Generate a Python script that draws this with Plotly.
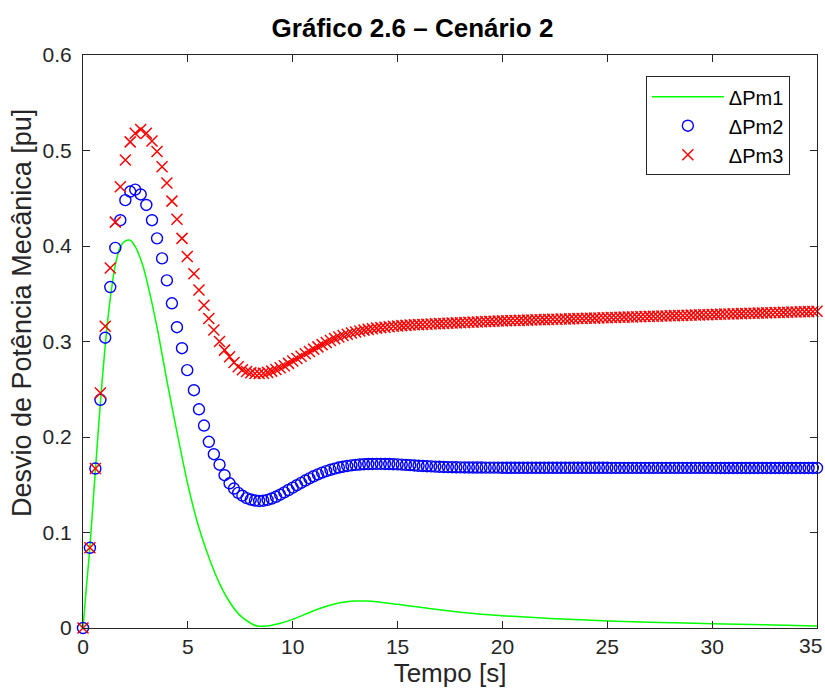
import plotly.graph_objects as go

# ---- data ----
# shared time base for the marker series (s)
t_early = [0, 0.33, 0.59, 0.83, 1.06, 1.30, 1.54, 1.78, 2.02, 2.25,
           2.49, 2.75, 3.02, 3.29, 3.53, 3.77, 4.00, 4.24, 4.48, 4.72,
           4.97, 5.29, 5.53, 5.77, 6.00, 6.24, 6.51, 6.75, 6.99, 7.20]
t_late = [7.4, 7.6, 7.8, 8.0, 8.2, 8.4, 8.6, 8.8, 9.0, 9.2,
          9.4, 9.6, 9.8, 10.0, 10.2, 10.4, 10.6, 10.8, 11.0, 11.2,
          11.4, 11.6, 11.8, 12.0, 12.2, 12.4, 12.6, 12.8, 13.0, 13.2,
          13.4, 13.6, 13.8, 14.0, 14.2, 14.4, 14.6, 14.8, 15.0, 15.2,
          15.4, 15.6, 15.8, 16.0, 16.2, 16.4, 16.6, 16.8, 17.0, 17.2,
          17.4, 17.6, 17.8, 18.0, 18.2, 18.4, 18.6, 18.8, 19.0, 19.2,
          19.4, 19.6, 19.8, 20.0, 20.2, 20.4, 20.6, 20.8, 21.0, 21.2,
          21.4, 21.6, 21.8, 22.0, 22.2, 22.4, 22.6, 22.8, 23.0, 23.2,
          23.4, 23.6, 23.8, 24.0, 24.2, 24.4, 24.6, 24.8, 25.0, 25.2,
          25.4, 25.6, 25.8, 26.0, 26.2, 26.4, 26.6, 26.8, 27.0, 27.2,
          27.4, 27.6, 27.8, 28.0, 28.2, 28.4, 28.6, 28.8, 29.0, 29.2,
          29.4, 29.6, 29.8, 30.0, 30.2, 30.4, 30.6, 30.8, 31.0, 31.2,
          31.4, 31.6, 31.8, 32.0, 32.2, 32.4, 32.6, 32.8, 33.0, 33.2,
          33.4, 33.6, 33.8, 34.0, 34.2, 34.4, 34.6, 34.8, 35.0]

pm2_early = [0, 0.084, 0.167, 0.239, 0.304, 0.357, 0.398, 0.427, 0.448, 0.457,
             0.459, 0.454, 0.443, 0.427, 0.408, 0.387, 0.364, 0.340, 0.315, 0.293,
             0.270, 0.249, 0.229, 0.212, 0.195, 0.182, 0.171, 0.160, 0.1515, 0.146]
pm2_late = [0.1415, 0.1385, 0.1360, 0.1345, 0.1335, 0.1330, 0.1333, 0.1342, 0.1356, 0.1374,
            0.1396, 0.1420, 0.1445, 0.1470, 0.1495, 0.1520, 0.1544, 0.1567, 0.1589, 0.1609,
            0.1627, 0.1643, 0.1657, 0.1669, 0.1680, 0.1689, 0.1697, 0.1703, 0.1708, 0.1712,
            0.1715, 0.1717, 0.1718, 0.1719, 0.1719, 0.1718, 0.1717, 0.1715, 0.1713, 0.1711,
            0.1708, 0.1705, 0.1702, 0.1699, 0.1697, 0.1694, 0.1692, 0.1690, 0.1688, 0.1686,
            0.1685, 0.1684, 0.1683, 0.1682, 0.1681, 0.1681, 0.1680, 0.1680, 0.1680, 0.1679,
            0.1679, 0.1679, 0.1679, 0.1678, 0.1678, 0.1678, 0.1678, 0.1678, 0.1678, 0.1678,
            0.1678, 0.1678, 0.1678, 0.1678, 0.1678, 0.1678, 0.1678, 0.1678, 0.1678, 0.1678,
            0.1678, 0.1678, 0.1678, 0.1678, 0.1678, 0.1678, 0.1678, 0.1678, 0.1678, 0.1677,
            0.1677, 0.1677, 0.1677, 0.1677, 0.1677, 0.1677, 0.1677, 0.1677, 0.1677, 0.1677,
            0.1677, 0.1677, 0.1677, 0.1677, 0.1677, 0.1677, 0.1677, 0.1677, 0.1677, 0.1677,
            0.1677, 0.1677, 0.1677, 0.1677, 0.1676, 0.1676, 0.1676, 0.1676, 0.1676, 0.1676,
            0.1676, 0.1676, 0.1676, 0.1676, 0.1676, 0.1676, 0.1676, 0.1676, 0.1676, 0.1676,
            0.1676, 0.1676, 0.1676, 0.1676, 0.1676, 0.1676, 0.1676, 0.1676, 0.1676]

pm3_early = [0, 0.084, 0.167, 0.246, 0.316, 0.377, 0.425, 0.462, 0.490, 0.509,
             0.518, 0.522, 0.518, 0.510, 0.499, 0.483, 0.466, 0.447, 0.428, 0.408,
             0.389, 0.371, 0.354, 0.338, 0.324, 0.312, 0.300, 0.291, 0.284, 0.278]
pm3_late = [0.2735, 0.2705, 0.2685, 0.2672, 0.2665, 0.2664, 0.2668, 0.2677, 0.2690, 0.2706,
            0.2725, 0.2747, 0.2771, 0.2796, 0.2821, 0.2846, 0.2871, 0.2896, 0.2920, 0.2944,
            0.2967, 0.2989, 0.3010, 0.3030, 0.3047, 0.3062, 0.3076, 0.3089, 0.3100, 0.3110,
            0.3119, 0.3127, 0.3134, 0.3140, 0.3145, 0.3150, 0.3155, 0.3159, 0.3163, 0.3166,
            0.3169, 0.3172, 0.3175, 0.3177, 0.3179, 0.3181, 0.3183, 0.3185, 0.3187, 0.3189,
            0.3191, 0.3193, 0.3195, 0.3197, 0.3199, 0.3201, 0.3203, 0.3205, 0.3207, 0.3209,
            0.3211, 0.3213, 0.3214, 0.3216, 0.3217, 0.3219, 0.3220, 0.3221, 0.3223, 0.3224,
            0.3225, 0.3227, 0.3228, 0.3229, 0.3231, 0.3232, 0.3233, 0.3235, 0.3236, 0.3237,
            0.3239, 0.3240, 0.3241, 0.3243, 0.3244, 0.3245, 0.3247, 0.3248, 0.3249, 0.3251,
            0.3252, 0.3253, 0.3255, 0.3256, 0.3257, 0.3259, 0.3260, 0.3261, 0.3263, 0.3264,
            0.3265, 0.3267, 0.3268, 0.3269, 0.3271, 0.3272, 0.3273, 0.3275, 0.3276, 0.3277,
            0.3279, 0.3280, 0.3281, 0.3283, 0.3284, 0.3285, 0.3287, 0.3288, 0.3289, 0.3291,
            0.3292, 0.3293, 0.3295, 0.3296, 0.3297, 0.3299, 0.3300, 0.3301, 0.3303, 0.3304,
            0.3305, 0.3307, 0.3308, 0.3309, 0.3311, 0.3312, 0.3313, 0.3315, 0.3316]

# green curve (continuous line)
t_pm1 = [0, 0.15, 0.33, 0.59, 0.83, 1.06, 1.3, 1.54, 1.78, 2.0,
         2.25, 2.5, 2.86, 3.22, 3.6, 4.0, 4.5, 5.0, 5.5, 6.0,
         6.5, 7.0, 7.5, 8.0, 8.3, 8.7, 9.0, 9.5, 10.0, 10.5,
         11.0, 11.5, 12.0, 12.5, 13.0, 13.5, 14.0, 15.0, 16.0, 17.0,
         18.0, 19.0, 20.0, 22.5, 25.0, 27.5, 30.0, 32.5, 35.0]
pm1 = [0, 0.040, 0.085, 0.165, 0.236, 0.296, 0.345, 0.380, 0.399, 0.405,
       0.406, 0.399, 0.379, 0.347, 0.307, 0.259, 0.203, 0.150, 0.107, 0.074,
       0.047, 0.027, 0.013, 0.005, 0.002, 0.002, 0.003, 0.0055, 0.009, 0.0135,
       0.018, 0.022, 0.0252, 0.0272, 0.0282, 0.0282, 0.0275, 0.0248, 0.022, 0.019,
       0.0165, 0.0145, 0.0128, 0.0098, 0.0074, 0.0058, 0.0045, 0.0033, 0.0022]

x_ticks = [0, 5, 10, 15, 20, 25, 30, 35]
x_tick_labels = ["0", "5", "10", "15", "20", "25", "30", "35"]
y_ticks = [0, 0.1, 0.2, 0.3, 0.4, 0.5, 0.6]
y_tick_labels = ["0", "0.1", "0.2", "0.3", "0.4", "0.5", "0.6"]

t_m = t_early + t_late
pm2 = pm2_early + pm2_late
pm3 = pm3_early + pm3_late
assert len(t_m) == len(pm2) == len(pm3)
assert len(t_pm1) == len(pm1)

AX = "#262626"
FONT = "Liberation Sans, Arial, Helvetica, sans-serif"
TICK_SIZE = 21

fig = go.Figure()
fig.add_trace(go.Scatter(x=t_pm1, y=pm1, mode="lines", name="ΔPm1",
                         line=dict(color="#00ff00", width=1.5, shape="spline", smoothing=0.7)))
fig.add_trace(go.Scatter(x=t_m, y=pm2, mode="markers", name="ΔPm2", cliponaxis=False,
                         marker=dict(symbol="circle-open", size=11, color="#0000ff",
                                     line=dict(width=1.4, color="#0000ff"))))
fig.add_trace(go.Scatter(x=t_m, y=pm3, mode="markers", name="ΔPm3", cliponaxis=False,
                         marker=dict(symbol="x-thin-open", size=11, color="#ff0000",
                                     line=dict(width=1.5, color="#ff0000"))))

axis_common = dict(showline=True, linecolor=AX, linewidth=1.2, mirror="ticks",
                   ticks="inside", ticklen=7, tickcolor=AX, tickwidth=1.2,
                   showgrid=False, zeroline=False, automargin=False,
                   tickfont=dict(size=TICK_SIZE, color=AX, family=FONT))

# last x tick label would overflow the page edge: draw it as a right-aligned
# annotation so it stays fully visible next to its tick
fig.update_xaxes(range=[0, 35], tickvals=x_ticks,
                 ticktext=x_tick_labels[:-1] + [""],
                 title=dict(text="Tempo [s]", font=dict(size=26, color=AX, family=FONT), standoff=4),
                 **axis_common)
fig.update_yaxes(range=[0, 0.6], tickvals=y_ticks, ticktext=y_tick_labels,
                 ticklabelstandoff=6, **axis_common)

fig.add_annotation(text=x_tick_labels[-1], xref="paper", yref="paper",
                   x=1 + (824 - 817) / 734, y=-(645 - 628) / 573,
                   xanchor="right", yanchor="middle", showarrow=False,
                   font=dict(size=TICK_SIZE, color=AX, family=FONT))

fig.add_annotation(text="Desvio de Potência Mecânica [pu]", textangle=-90,
                   xref="paper", yref="paper", x=(22 - 83) / 734, y=(628 - 313) / 573,
                   xanchor="center", yanchor="middle", showarrow=False,
                   font=dict(size=27, color=AX, family=FONT))

fig.update_layout(
    width=825, height=697,
    margin=dict(l=83, r=8, t=55, b=69),
    paper_bgcolor="white", plot_bgcolor="white",
    font=dict(family=FONT, color=AX),
    title=dict(text="<b>Gráfico 2.6 – Cenário 2</b>", x=0.5, xref="container", xanchor="center",
               y=1 - 28 / 697, yref="container", yanchor="middle",
               font=dict(size=26, color="#000000", family=FONT)),
    showlegend=True,
    legend=dict(x=0.963, xanchor="right", y=0.963, yanchor="top",
                bgcolor="white", bordercolor=AX, borderwidth=1,
                font=dict(size=20, color="#000000", family=FONT),
                itemwidth=72, tracegroupgap=0),
)

fig.write_html("out.html")
